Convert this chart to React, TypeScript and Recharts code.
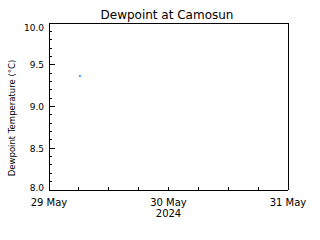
import { ScatterChart, Scatter, XAxis, YAxis } from 'recharts';

// hours since 29 May 2024 00:00
const hourTicks = [0, 6, 12, 18, 24, 30, 36, 42, 48];
const dayLabels: Record<number, string> = { 0: '29 May', 24: '30 May', 48: '31 May' };
const yearLabel = '2024';
const tempTicks = [8.0, 8.1, 8.2, 8.3, 8.4, 8.5, 8.6, 8.7, 8.8, 8.9, 9.0, 9.1, 9.2, 9.3, 9.4, 9.5, 9.6, 9.7, 9.8, 9.9, 10.0];
const readings = [{ hour: 6.2, dewpoint: 9.37 }];

const FONT = 'DejaVu Sans, sans-serif';
const isMajor = (v: number) => Math.abs(v * 2 - Math.round(v * 2)) < 1e-6;
const axisLine = { stroke: '#000', shapeRendering: 'crispEdges' };

function BottomTick({ x, y, payload }: any) {
  const label = dayLabels[payload.value];
  return (
    <g>
      <line x1={x} x2={x} y1={y} y2={y - 3} stroke="#000" shapeRendering="crispEdges" />
      {label && (
        <text x={x} y={y + 16} textAnchor="middle" fontSize={10} fontFamily={FONT} fill="#000">
          {label}
        </text>
      )}
      {payload.value === 24 && (
        <text x={x} y={y + 27} textAnchor="middle" fontSize={10} fontFamily={FONT} fill="#000">
          {yearLabel}
        </text>
      )}
    </g>
  );
}

function TopTick({ x, y }: any) {
  return <line x1={x} x2={x} y1={y} y2={y + 3} stroke="#000" shapeRendering="crispEdges" />;
}

function LeftTick({ x, y, payload }: any) {
  const major = isMajor(payload.value);
  let ty = y + 3.5;
  if (payload.value >= 10) ty = y + 8;
  if (payload.value <= 8) ty = y + 1;
  return (
    <g>
      <line x1={x} x2={x + (major ? 6 : 3)} y1={y} y2={y} stroke="#000" shapeRendering="crispEdges" />
      {major && (
        <text x={x - 5} y={ty} textAnchor="end" fontSize={9} fontFamily={FONT} fill="#000">
          {payload.value.toFixed(1)}
        </text>
      )}
    </g>
  );
}

function RightTick({ x, y, payload }: any) {
  const major = isMajor(payload.value);
  return <line x1={x} x2={x - (major ? 6 : 3)} y1={y} y2={y} stroke="#000" shapeRendering="crispEdges" />;
}

function Dash({ cx, cy }: any) {
  return <rect x={cx - 1} y={cy - 0.5} width={2} height={1.5} fill="#0080ff" />;
}

export default function App() {
  return (
    <div style={{ position: 'absolute', left: 0, top: 0, width: 320, height: 240, background: '#fff' }}>
      <ScatterChart width={320} height={240} margin={{ top: 22, right: 31, bottom: 49, left: 48 }}>
        <XAxis
          type="number"
          dataKey="hour"
          domain={[0, 48]}
          ticks={hourTicks}
          height={1}
          tickSize={0}
          tickMargin={0}
          tick={<BottomTick />}
          axisLine={axisLine}
          tickLine={false}
          interval={0}
        />
        <XAxis
          xAxisId="top"
          orientation="top"
          type="number"
          dataKey="hour"
          domain={[0, 48]}
          ticks={hourTicks}
          height={1}
          tickSize={0}
          tickMargin={0}
          tick={<TopTick />}
          axisLine={axisLine}
          tickLine={false}
          interval={0}
        />
        <YAxis
          type="number"
          dataKey="dewpoint"
          domain={[8, 10]}
          ticks={tempTicks}
          width={1}
          tickSize={0}
          tickMargin={0}
          tick={<LeftTick />}
          axisLine={axisLine}
          tickLine={false}
          interval={0}
        />
        <YAxis
          yAxisId="right"
          orientation="right"
          type="number"
          dataKey="dewpoint"
          domain={[8, 10]}
          ticks={tempTicks}
          width={1}
          tickSize={0}
          tickMargin={0}
          tick={<RightTick />}
          axisLine={axisLine}
          tickLine={false}
          interval={0}
        />
        <Scatter data={readings} shape={<Dash />} isAnimationActive={false} />
      </ScatterChart>
      <svg width={320} height={240} style={{ position: 'absolute', left: 0, top: 0, pointerEvents: 'none' }}>
        <text x={167} y={19} textAnchor="middle" fontSize={12} fontFamily={FONT} fill="#000">
          Dewpoint at Camosun
        </text>
        <text
          x={15}
          y={118}
          transform="rotate(-90 15 118)"
          textAnchor="middle"
          fontSize={8.5}
          fontFamily={FONT}
          fill="#000"
        >
          Dewpoint Temperature (°C)
        </text>
      </svg>
    </div>
  );
}
